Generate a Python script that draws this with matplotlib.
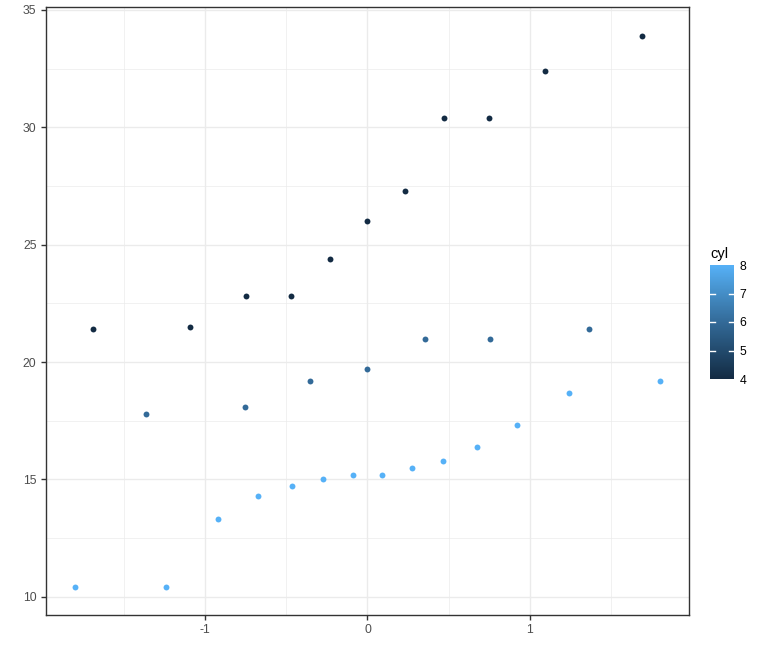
import numpy as np
import matplotlib
matplotlib.use("Agg")
import matplotlib.pyplot as plt
from matplotlib.colors import LinearSegmentedColormap, Normalize
from matplotlib.colorbar import ColorbarBase

# theoretical quantiles (x) and sorted mpg (y) per cyl group
cyl4_x = [-1.691, -1.097, -0.748, -0.473, -0.229, 0.0, 0.229, 0.473, 0.748, 1.097, 1.691]
cyl4_y = [21.4, 21.5, 22.8, 22.8, 24.4, 26.0, 27.3, 30.4, 30.4, 32.4, 33.9]
cyl6_x = [-1.366, -0.758, -0.353, 0.0, 0.353, 0.758, 1.366]
cyl6_y = [17.8, 18.1, 19.2, 19.7, 21.0, 21.0, 21.4]
cyl8_x = [-1.803, -1.242, -0.921, -0.674, -0.464, -0.272, -0.090,
          0.090, 0.272, 0.464, 0.674, 0.921, 1.242, 1.803]
cyl8_y = [10.4, 10.4, 13.3, 14.3, 14.7, 15.0, 15.2, 15.2, 15.5, 15.8, 16.4, 17.3, 18.7, 19.2]

groups = [(4, cyl4_x, cyl4_y), (6, cyl6_x, cyl6_y), (8, cyl8_x, cyl8_y)]

plt.rcParams['font.family'] = ['Liberation Sans', 'DejaVu Sans']
plt.rcParams['axes.unicode_minus'] = False

# ggplot default gradient (#132B43 -> #56B1F7), approx Lab interpolation
cmap = LinearSegmentedColormap.from_list(
    "gg", [(0, "#132B43"), (0.25, "#224A6D"), (0.5, "#336A98"),
           (0.75, "#448DC6"), (1, "#56B1F7")])
norm = Normalize(4, 8)

fig = plt.figure(figsize=(7.63, 6.6), dpi=100)
ax = fig.add_axes([46/763, 1-615/660, (689-46)/763, (615-7)/660])

for cyl, xs, ys in groups:
    ax.scatter(xs, ys, s=18, color=cmap(norm(cyl)), linewidths=0, zorder=3)

ax.set_xlim(-1.983, 1.983)
ax.set_ylim(9.225, 35.12)
ax.set_xticks([-1, 0, 1])
ax.set_xticks([-1.5, -0.5, 0.5, 1.5], minor=True)
ax.set_yticks([10, 15, 20, 25, 30, 35])
ax.set_yticks([12.5, 17.5, 22.5, 27.5, 32.5], minor=True)
ax.grid(which='major', color='#EBEBEB', lw=1.0, zorder=0)
ax.grid(which='minor', color='#EBEBEB', lw=0.5, zorder=0)
ax.set_axisbelow(True)
for sp in ax.spines.values():
    sp.set_color('#333333')
    sp.set_linewidth(1.0)
ax.tick_params(which='major', length=3.8, width=1.0, color='#333333',
               labelsize=8.8, labelcolor='#4D4D4D', pad=3)
ax.tick_params(which='minor', length=0)

cax = fig.add_axes([710/763, 1-379/660, 24/763, 114/660])
cb = ColorbarBase(cax, cmap=cmap, norm=norm, orientation='vertical')
cb.outline.set_visible(False)
cb.set_ticks([4, 5, 6, 7, 8])
cax.tick_params(length=0, labelsize=8.8, labelcolor='black', pad=4)
for v in [5, 6, 7]:
    cax.plot([0, 0.2], [v, v], color='white', lw=1, transform=cax.get_yaxis_transform())
    cax.plot([0.8, 1], [v, v], color='white', lw=1, transform=cax.get_yaxis_transform())
cax.set_title('cyl', fontsize=10.5, loc='left', pad=5, x=0.0)

fig.savefig("out.png", dpi=100)
